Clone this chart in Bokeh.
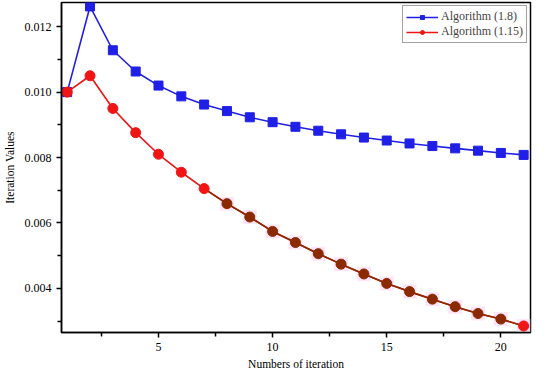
from bokeh.plotting import figure
from bokeh.models import FixedTicker, NumeralTickFormatter, Range1d, Legend, LegendItem
from bokeh.embed import file_html
from bokeh.resources import INLINE

iters = list(range(1, 22))
alg_18 = [0.01000, 0.01262, 0.01128, 0.01063, 0.01020, 0.00987, 0.00962, 0.00942,
          0.00923, 0.00908, 0.00894, 0.00882, 0.00871, 0.00861, 0.00852, 0.00843,
          0.00835, 0.00828, 0.00821, 0.00814, 0.00808]
alg_115 = [0.01000, 0.01050, 0.00950, 0.00876, 0.00810, 0.00755, 0.00705, 0.00659,
           0.00618, 0.00574, 0.00540, 0.00506, 0.00474, 0.00444, 0.00415, 0.00390,
           0.00367, 0.00344, 0.00323, 0.00306, 0.00285]
x_ticks = [5, 10, 15, 20]
x_minor = [2.5, 7.5, 12.5, 17.5]
y_ticks = [0.004, 0.006, 0.008, 0.010, 0.012]
y_minor = [0.003, 0.005, 0.007, 0.009, 0.011]

FONT = "Liberation Serif"

p = figure(width=534, height=372, output_backend="svg", toolbar_location=None,
           x_range=Range1d(0.75, 21.3), y_range=Range1d(0.00265, 0.01274),
           min_border_left=50, min_border_right=4, min_border_top=2, min_border_bottom=35)
p.background_fill_color = "white"
p.border_fill_color = "white"
p.grid.visible = False
p.outline_line_color = "black"
p.outline_line_width = 1.5

blue = "#1f1fe6"
red = "#f01414"
brown = "#8b2a00"

# series 1.8
l1 = p.line(iters, alg_18, line_color=blue, line_width=1.6)
m1 = p.scatter(iters, alg_18, marker="square", size=9, fill_color=blue, line_color=blue)

# series 1.15
l2 = p.line(iters, alg_115, line_color=red, line_width=1.6)
# faint pink halo behind later points
p.scatter(iters[7:], alg_115[7:], marker="square", size=14, fill_color="#ffdaf6",
          line_color=None, fill_alpha=0.7, level="underlay")
p.line(iters[6:], alg_115[6:], line_color=brown, line_width=1.6)
m2 = p.scatter(iters[:7], alg_115[:7], marker="circle", size=10, fill_color=red, line_color=red)
p.scatter(iters[7:20], alg_115[7:20], marker="circle", size=10, fill_color=brown, line_color=brown)
p.scatter(iters[20:], alg_115[20:], marker="circle", size=10, fill_color=red, line_color=red)

legend = Legend(items=[LegendItem(label="Algorithm (1.8)", renderers=[l1, m1]),
                       LegendItem(label="Algorithm (1.15)", renderers=[l2, m2])],
                location="top_right")
legend.label_text_font = FONT
legend.label_text_font_size = "12px"
legend.label_standoff = 3
legend.glyph_width = 32
legend.glyph_height = 10
legend.spacing = 0
legend.padding = 3
legend.margin = 3
legend.border_line_color = "#444444"
legend.border_line_width = 1
legend.background_fill_alpha = 1
p.add_layout(legend)

p.xaxis.ticker = FixedTicker(ticks=x_ticks, minor_ticks=x_minor)
p.yaxis.ticker = FixedTicker(ticks=y_ticks, minor_ticks=y_minor)
p.yaxis.formatter = NumeralTickFormatter(format="0.000")
for ax in (p.xaxis[0], p.yaxis[0]):
    ax.axis_line_width = 1.5
    ax.axis_line_color = "black"
    ax.major_tick_line_width = 1.5
    ax.minor_tick_line_width = 1.5
    ax.major_tick_out = 5
    ax.major_tick_in = 0
    ax.minor_tick_out = 4
    ax.minor_tick_in = 0
    ax.major_label_text_font = FONT
    ax.major_label_text_font_size = "12px"
    ax.major_label_text_color = "black"
    ax.axis_label_text_font = FONT
    ax.axis_label_text_font_size = "11.5px"
    ax.axis_label_text_font_style = "normal"
    ax.axis_label_text_color = "black"
p.xaxis.axis_label = "Numbers of iteration"
p.yaxis.axis_label = "Iteration Values"
p.xaxis.axis_label_standoff = 4
p.yaxis.axis_label_standoff = 6

open("out.html", "w").write(file_html(p, INLINE))
